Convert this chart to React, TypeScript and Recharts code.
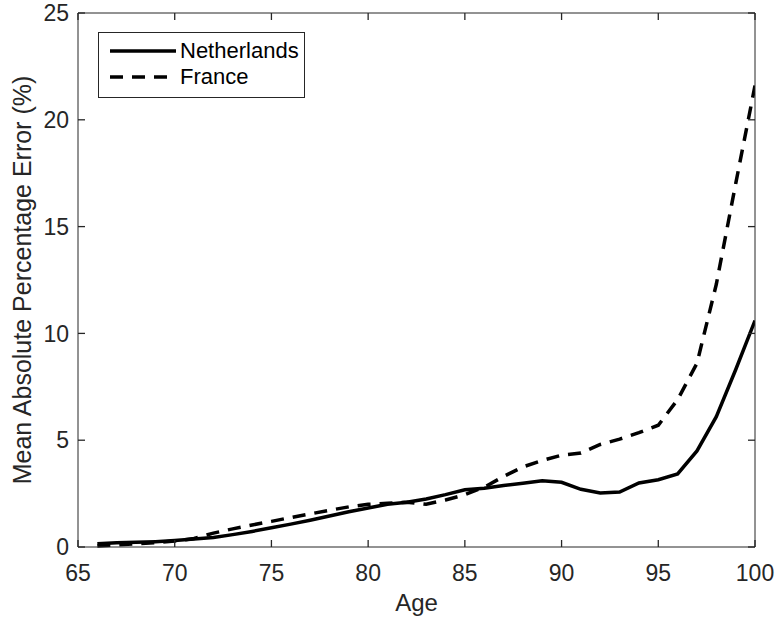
import { LineChart, Line, XAxis, YAxis, Label, Legend } from "recharts"

const ages = [
  66, 67, 68, 69, 70, 71, 72, 73, 74, 75, 76, 77, 78, 79, 80, 81, 82, 83, 84, 85, 86, 87, 88, 89, 90, 91, 92, 93, 94,
  95, 96, 97, 98, 99, 100,
]
const netherlands = [
  0.15, 0.2, 0.22, 0.25, 0.3, 0.37, 0.45, 0.58, 0.73, 0.9, 1.07, 1.25, 1.45, 1.65, 1.83, 2.0, 2.1, 2.25, 2.45, 2.68,
  2.75, 2.88, 2.98, 3.1, 3.03, 2.7, 2.53, 2.57, 3.0, 3.15, 3.42, 4.5, 6.1, 8.3, 10.6,
]
const france = [
  0.05, 0.1, 0.15, 0.2, 0.28, 0.4, 0.65, 0.85, 1.03, 1.2, 1.38, 1.55, 1.72, 1.88, 2.0, 2.05, 2.1, 2.0, 2.2, 2.45, 2.8,
  3.3, 3.75, 4.05, 4.3, 4.4, 4.8, 5.05, 5.35, 5.7, 6.9, 8.6, 12.3, 17.0, 21.6,
]
const xTicks = [65, 70, 75, 80, 85, 90, 95, 100]
const yTicks = [0, 5, 10, 15, 20, 25]

const series = [
  { key: "netherlands", name: "Netherlands", dash: undefined as string | undefined },
  { key: "france", name: "France", dash: "13 9" },
]

const data = ages.map((age, i) => ({ age, netherlands: netherlands[i], france: france[i] }))

const ink = "#262626"
const font = "'Liberation Sans', Arial, Helvetica, sans-serif"
const tickLen = 7

// MATLAB style: tick marks point into the plot box
function BottomTick(props: any) {
  const { x, y, payload } = props
  return (
    <g>
      <line x1={x} y1={y} x2={x} y2={y - tickLen} stroke={ink} strokeWidth={1.3} />
      <text x={x} y={y + 34} textAnchor="middle" fill={ink} fontSize={23} fontFamily={font}>
        {payload.value}
      </text>
    </g>
  )
}

function LeftTick(props: any) {
  const { x, y, payload } = props
  return (
    <g>
      <line x1={x} y1={y} x2={x + tickLen} y2={y} stroke={ink} strokeWidth={1.3} />
      <text x={x - 9} y={y} dy="0.36em" textAnchor="end" fill={ink} fontSize={23} fontFamily={font}>
        {payload.value}
      </text>
    </g>
  )
}

function TopTick(props: any) {
  const { x, y } = props
  return <line x1={x} y1={y} x2={x} y2={y + tickLen} stroke={ink} strokeWidth={1.3} />
}

function RightTick(props: any) {
  const { x, y } = props
  return <line x1={x} y1={y} x2={x - tickLen} y2={y} stroke={ink} strokeWidth={1.3} />
}

function LegendBox() {
  return (
    <div
      style={{
        border: `1px solid ${ink}`,
        background: "#fff",
        padding: "5px 5px 7px 11px",
        fontFamily: font,
        fontSize: 22,
        color: "#000",
      }}
    >
      {series.map((s) => (
        <div key={s.key} style={{ display: "flex", alignItems: "center", height: 26 }}>
          <svg width={66} height={10} style={{ marginRight: 4 }}>
            <line x1={0} y1={5} x2={66} y2={5} stroke="#000" strokeWidth={3.5} strokeDasharray={s.dash} />
          </svg>
          <span>{s.name}</span>
        </div>
      ))}
    </div>
  )
}

export default function App() {
  return (
    <div style={{ position: "absolute", left: 0, top: 0, width: 779, height: 621, background: "#fff" }}>
      <LineChart width={779} height={621} data={data} margin={{ top: 12, right: 23, bottom: 4, left: 0 }}>
        <XAxis
          dataKey="age"
          type="number"
          domain={[65, 100]}
          ticks={xTicks}
          allowDataOverflow
          height={70}
          stroke={ink}
          tickLine={false}
          tickSize={0}
          tickMargin={0}
          tick={<BottomTick />}
        >
          <Label value="Age" position="insideBottom" offset={6} fill={ink} fontSize={24} fontFamily={font} />
        </XAxis>
        <XAxis
          xAxisId="top"
          dataKey="age"
          type="number"
          orientation="top"
          domain={[65, 100]}
          ticks={xTicks}
          allowDataOverflow
          height={1}
          stroke={ink}
          tickLine={false}
          tickSize={0}
          tickMargin={0}
          tick={<TopTick />}
        />
        <YAxis
          type="number"
          domain={[0, 25]}
          ticks={yTicks}
          width={78}
          stroke={ink}
          tickLine={false}
          tickSize={0}
          tickMargin={0}
          tick={<LeftTick />}
        >
          <Label
            value="Mean Absolute Percentage Error (%)"
            angle={-90}
            position="center"
            dx={-16.5}
            fill={ink}
            fontSize={25}
            fontFamily={font}
          />
        </YAxis>
        <YAxis
          yAxisId="right"
          orientation="right"
          type="number"
          domain={[0, 25]}
          ticks={yTicks}
          allowDataOverflow
          width={1}
          stroke={ink}
          tickLine={false}
          tickSize={0}
          tickMargin={0}
          tick={<RightTick />}
        />
        <Legend
          layout="vertical"
          align="center"
          verticalAlign="middle"
          content={() => <LegendBox />}
          wrapperStyle={{ left: 98, top: 32, width: "auto" }}
        />
        {/* invisible copy so the mirrored top/right axes get a scale and draw their ticks */}
        <Line
          xAxisId="top"
          yAxisId="right"
          dataKey="france"
          stroke="none"
          dot={false}
          activeDot={false}
          legendType="none"
          isAnimationActive={false}
        />
        {series.map((s) => (
          <Line
            key={s.key}
            dataKey={s.key}
            name={s.name}
            type="linear"
            stroke="#000"
            strokeWidth={3.5}
            strokeDasharray={s.dash}
            dot={false}
            isAnimationActive={false}
          />
        ))}
      </LineChart>
    </div>
  )
}
